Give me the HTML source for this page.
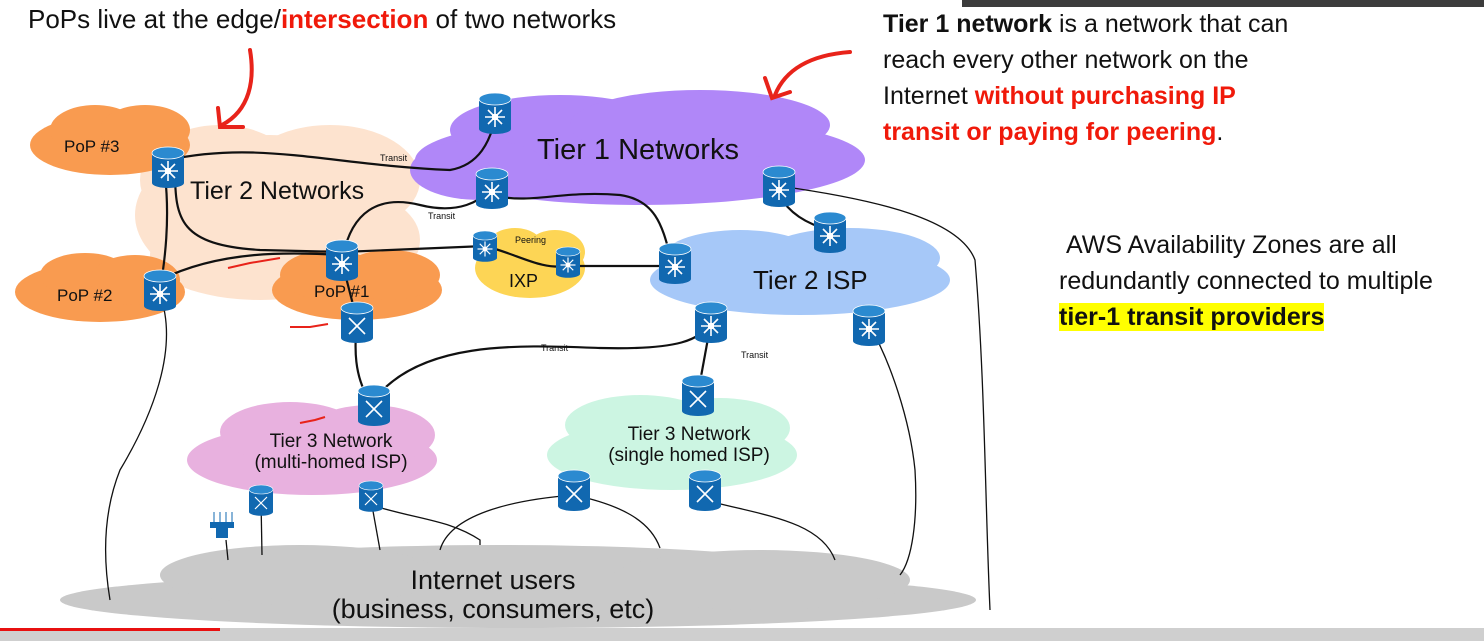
<!DOCTYPE html>
<html><head><meta charset="utf-8"><style>
body{margin:0;width:1484px;height:641px;overflow:hidden;background:#fff;font-family:"Liberation Sans",sans-serif;}
svg{position:absolute;left:0;top:0}
.t{position:absolute;font-family:"Liberation Sans",sans-serif;color:#111;white-space:nowrap}
.r{color:#f0190a;font-weight:bold}
</style></head><body>
<svg width="1484" height="641" viewBox="0 0 1484 641">
<defs>
<g id="rt">
<rect x="-16" y="-14" width="32" height="30" fill="#1168b0"/>
<ellipse cx="0" cy="16" rx="16" ry="5" fill="#1168b0"/>
<ellipse cx="0" cy="-14" rx="16" ry="6" fill="#2b8ad0" stroke="#fff" stroke-width="0.8"/>
<g stroke="#fff" stroke-width="1.6"><line x1="-10" y1="4" x2="10" y2="4"/><line x1="0" y1="-6" x2="0" y2="14"/><line x1="-7" y1="-3" x2="7" y2="11"/><line x1="7" y1="-3" x2="-7" y2="11"/></g>
<rect x="-3" y="1" width="6" height="6" fill="#fff"/>
</g>
<g id="sw">
<rect x="-16" y="-14" width="32" height="30" fill="#1168b0"/>
<ellipse cx="0" cy="16" rx="16" ry="5" fill="#1168b0"/>
<ellipse cx="0" cy="-14" rx="16" ry="6" fill="#2b8ad0" stroke="#fff" stroke-width="0.8"/>
<path d="M-8 -4 Q0 4 8 12 M8 -4 Q0 4 -8 12" stroke="#fff" stroke-width="1.6" fill="none"/>
</g>
</defs>
<rect x="962" y="0" width="522" height="7" fill="#3c3c3c"/>
<g fill="#fde3cf"><ellipse cx="270" cy="215" rx="135" ry="80"/><ellipse cx="220" cy="180" rx="80" ry="55"/><ellipse cx="330" cy="180" rx="90" ry="55"/><ellipse cx="260" cy="255" rx="110" ry="45"/><ellipse cx="360" cy="240" rx="60" ry="45"/></g>
<g fill="#f99b50"><ellipse cx="110" cy="145" rx="80" ry="30"/><ellipse cx="95" cy="130" rx="45" ry="25"/><ellipse cx="145" cy="130" rx="45" ry="25"/></g>
<g fill="#f99b50"><ellipse cx="100" cy="292" rx="85" ry="30"/><ellipse cx="85" cy="275" rx="45" ry="22"/><ellipse cx="135" cy="280" rx="45" ry="25"/></g>
<g fill="#f99b50"><ellipse cx="357" cy="290" rx="85" ry="30"/><ellipse cx="330" cy="275" rx="50" ry="25"/><ellipse cx="390" cy="275" rx="50" ry="25"/></g>
<g fill="#fdd555"><ellipse cx="530" cy="268" rx="55" ry="30"/><ellipse cx="515" cy="250" rx="30" ry="22"/><ellipse cx="555" cy="252" rx="30" ry="22"/></g>
<g fill="#b087f8"><ellipse cx="640" cy="160" rx="225" ry="45"/><ellipse cx="560" cy="130" rx="110" ry="35"/><ellipse cx="700" cy="125" rx="130" ry="35"/><ellipse cx="480" cy="170" rx="70" ry="30"/></g>
<g fill="#a6c8f8"><ellipse cx="800" cy="280" rx="150" ry="35"/><ellipse cx="740" cy="260" rx="80" ry="30"/><ellipse cx="850" cy="258" rx="90" ry="30"/></g>
<g fill="#e8b1df"><ellipse cx="312" cy="460" rx="125" ry="35"/><ellipse cx="290" cy="432" rx="70" ry="30"/><ellipse cx="370" cy="435" rx="65" ry="30"/></g>
<g fill="#ccf5e2"><ellipse cx="672" cy="455" rx="125" ry="35"/><ellipse cx="640" cy="425" rx="75" ry="30"/><ellipse cx="720" cy="428" rx="70" ry="30"/></g>
<g fill="#c9c9c9"><ellipse cx="518" cy="600" rx="458" ry="28"/><ellipse cx="500" cy="575" rx="340" ry="30"/><ellipse cx="300" cy="575" rx="140" ry="30"/><ellipse cx="760" cy="580" rx="150" ry="30"/></g>
<g stroke="#111" stroke-width="2.2" fill="none">
<path d="M168 160 C260 140 330 165 450 170 C480 165 490 140 495 120"/>
<path d="M175 170 C175 220 180 245 260 250 L342 252"/>
<path d="M342 262 C350 210 380 195 420 205 C460 215 480 200 492 190"/>
<path d="M165 175 C170 220 165 260 160 290"/>
<path d="M160 280 C220 250 290 252 342 255"/>
<path d="M342 252 L485 246"/>
<path d="M485 246 C520 255 540 270 568 266 L675 266"/>
<path d="M492 195 C530 205 560 190 620 195 C655 200 662 225 670 255"/>
<path d="M779 195 C790 215 810 225 830 230"/>
<path d="M342 262 L357 320"/>
<path d="M357 320 C355 345 352 375 372 405"/>
<path d="M374 400 C420 340 520 345 600 348 C680 350 700 340 711 322"/>
<path d="M711 322 L698 393"/>
</g>
<g stroke="#111" stroke-width="1.3" fill="none">
<path d="M160 295 C180 350 150 420 120 470 C100 520 105 570 110 600"/>
<path d="M779 186 C880 200 960 220 975 260 C985 380 985 500 990 610"/>
<path d="M869 325 C890 360 910 420 915 470 C918 520 912 560 900 575"/>
<path d="M261 500 L262 555"/><path d="M371 500 L380 550"/><path d="M226 540 L228 560"/>
<path d="M371 505 C420 520 450 520 480 540 L480 545"/>
<path d="M574 495 C510 500 450 515 440 550"/>
<path d="M574 495 C620 505 650 520 660 548"/>
<path d="M705 500 C760 515 820 520 835 560"/>
</g>
<use href="#rt" x="168" y="167"/><use href="#rt" x="160" y="290"/><use href="#rt" x="342" y="260"/>
<use href="#sw" x="357" y="322"/><use href="#rt" x="495" y="113"/><use href="#rt" x="492" y="188"/>
<use href="#rt" x="779" y="186"/><use href="#rt" x="830" y="232"/>
<use href="#rt" x="485" y="246" transform="translate(485 246) scale(0.75) translate(-485 -246)"/>
<use href="#rt" x="568" y="262" transform="translate(568 262) scale(0.75) translate(-568 -262)"/>
<use href="#rt" x="675" y="263"/><use href="#rt" x="711" y="322"/><use href="#rt" x="869" y="325"/>
<use href="#sw" x="374" y="405"/><use href="#sw" x="698" y="395"/>
<use href="#sw" x="261" y="500" transform="translate(261 500) scale(0.75) translate(-261 -500)"/>
<use href="#sw" x="371" y="496" transform="translate(371 496) scale(0.75) translate(-371 -496)"/>
<use href="#sw" x="574" y="490"/><use href="#sw" x="705" y="490"/>
<g fill="#1168b0"><rect x="210" y="522" width="24" height="6"/><rect x="216" y="528" width="12" height="10"/></g>
<g stroke="#1168b0" stroke-width="1"><line x1="214" y1="512" x2="214" y2="522"/><line x1="220" y1="512" x2="220" y2="522"/><line x1="226" y1="512" x2="226" y2="522"/><line x1="232" y1="512" x2="232" y2="522"/></g>
<g stroke="#e8231a" stroke-width="4" fill="none" stroke-linecap="round">
<path d="M250 50 C255 80 250 110 222 125"/><path d="M218 108 L220 127 L243 127"/>
<path d="M850 52 C810 55 785 70 775 95"/><path d="M765 78 L772 98 L790 92"/>
</g>
<g stroke="#e8231a" stroke-width="2" fill="none"><path d="M228 268 L250 263 L280 258"/><path d="M290 327 L310 327 L328 324"/><path d="M300 423 L315 420 L325 417"/></g>
<rect x="0" y="628" width="1484" height="13" fill="#cfcfcf"/>
<rect x="0" y="628" width="220" height="3" fill="#e81010"/>
<g font-family="Liberation Sans, sans-serif" fill="#111">
<text x="64" y="152" font-size="17">PoP #3</text>
<text x="57" y="301" font-size="17">PoP #2</text>
<text x="314" y="297" font-size="17">PoP #1</text>
<text x="190" y="199" font-size="25">Tier 2 Networks</text>
<text x="537" y="159" font-size="29">Tier 1 Networks</text>
<text x="753" y="289" font-size="26">Tier 2 ISP</text>
<text x="509" y="287" font-size="18">IXP</text>
<text x="515" y="243" font-size="9">Peering</text>
<text x="380" y="161" font-size="9">Transit</text>
<text x="428" y="219" font-size="9">Transit</text>
<text x="541" y="351" font-size="9">Transit</text>
<text x="741" y="358" font-size="9">Transit</text>
<text x="331" y="447" font-size="19" text-anchor="middle">Tier 3 Network</text>
<text x="331" y="468" font-size="19" text-anchor="middle">(multi-homed ISP)</text>
<text x="689" y="440" font-size="19" text-anchor="middle">Tier 3 Network</text>
<text x="689" y="461" font-size="19" text-anchor="middle">(single homed ISP)</text>
<text x="493" y="589" font-size="27" text-anchor="middle">Internet users</text>
<text x="493" y="618" font-size="27" text-anchor="middle">(business, consumers, etc)</text>
</g>
</svg>
<div class="t" style="left:28px;top:4px;font-size:26px">PoPs live at the edge/<span class="r">intersection</span> of two networks</div>
<div class="t" style="left:883px;top:6px;font-size:25px;line-height:36px">
<b>Tier 1 network</b> is a network that can<br>reach every other network on the<br>Internet <span class="r">without purchasing IP</span><br><span class="r">transit or paying for peering</span>.</div>
<div class="t" style="left:1066px;top:227px;font-size:25px;line-height:36px">AWS Availability Zones are all</div>
<div class="t" style="left:1059px;top:263px;font-size:25px;line-height:36px">redundantly connected to multiple<br><b style="background:#ffff00">tier-1 transit providers</b></div>
</body></html>
